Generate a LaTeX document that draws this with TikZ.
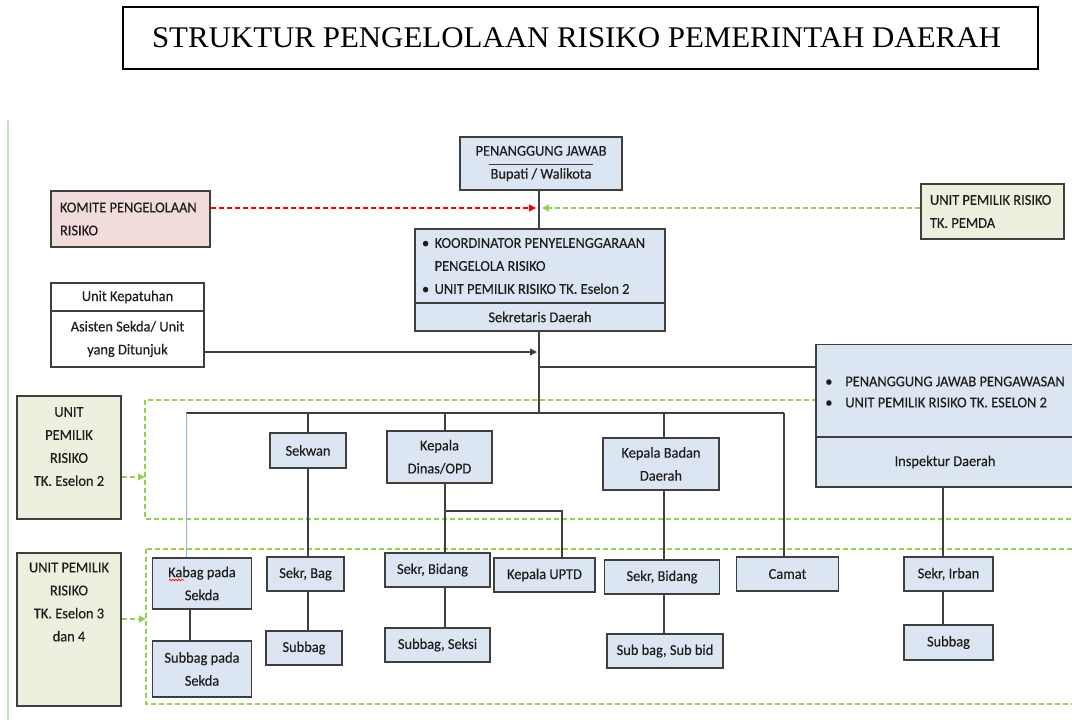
\documentclass[tikz,border=0pt]{standalone}
\usepackage{fontspec}
\setmainfont{Carlito}[FakeStretch=0.96,FakeBold=0.3]
\newfontfamily\titlefont{Liberation Serif}[FakeStretch=1.03]
\usetikzlibrary{arrows.meta,decorations.pathmorphing}
\definecolor{bxblue}{HTML}{DCE6F2}
\definecolor{bxpink}{HTML}{F2DCDB}
\definecolor{bxgreen}{HTML}{EBF1DE}
\definecolor{bxline}{HTML}{3F3F3F}
\definecolor{dgreen}{HTML}{92D050}
\definecolor{lgreen}{HTML}{C5E0B4}
\definecolor{cblue}{HTML}{8EB4E3}
\definecolor{txt}{HTML}{1E1E1E}
\newcommand\boxfont{\fontsize{15}{23}\selectfont}
\begin{document}
\begin{tikzpicture}[x=1pt,y=-1pt,
  bx/.style={draw=bxline, line width=1.3pt, fill=bxblue, inner sep=0pt, font=\boxfont, text=txt, align=center},
  sz/.style 2 args={minimum width=#1pt, minimum height=#2pt},
  conn/.style={draw=bxline, line width=1.2pt},
  gdash/.style={draw=dgreen, line width=1.2pt, dash pattern=on 5pt off 3pt},
  rdash/.style={draw=red, line width=1.2pt, dash pattern=on 5pt off 3pt},
  gtip/.style={-{Triangle[length=7pt,width=7pt]}},
]
\useasboundingbox (0,0) rectangle (1072,720);

% title
\node[draw=black, line width=1.2pt, sz={915}{62}, inner sep=0pt,
      font=\titlefont\fontsize{30}{36}\selectfont] (title) at (580.5,38)
      {STRUKTUR PENGELOLAAN RISIKO PEMERINTAH DAERAH\hspace*{8pt}};

% left green rule
\draw[lgreen, line width=2pt] (8,120) -- (8,720);

% dashed group frames
\draw[gdash] (145,400) rectangle (1090,519);
\draw[gdash] (146,549) rectangle (1090,704);

% top boxes
\node[bx, sz={162}{53}] (pj) at (541,163.5) {PENANGGUNG JAWAB\\Bupati / Walikota};
\draw[bxline, line width=1.2pt] (489,164.5) -- (593,164.5);

\node[bx, fill=bxpink, sz={159}{56}, align=flush left, text width=141pt] (komite) at (130.5,219)
  {KOMITE PENGELOLAAN\\RISIKO};
\node[bx, fill=bxgreen, sz={143}{55}, align=flush left, text width=125pt] (pemda) at (992.5,211.5)
  {UNIT PEMILIK RISIKO\\TK. PEMDA};

\node[bx, sz={250}{74}, align=flush left, text width=236pt] (koord) at (540,266)
  {\makebox[12.7pt][l]{•}KOORDINATOR PENYELENGGARAAN\\\hspace*{12.7pt}PENGELOLA RISIKO\\\makebox[12.7pt][l]{•}UNIT PEMILIK RISIKO TK. Eselon 2};
\node[bx, sz={250}{28}] (sekda) at (540,317) {Sekretaris Daerah};

\node[bx, fill=white, sz={153}{28}] (kepat) at (127.5,297) {Unit Kepatuhan};
\node[bx, fill=white, sz={153}{56}] (asisten) at (127.5,339) {Asisten Sekda/ Unit\\yang Ditunjuk};

\node[bx, sz={258}{95}, align=flush left, font=\fontsize{15}{21}\selectfont] (pjpeng) at (945,392)
  {\makebox[20pt][l]{•}PENANGGUNG JAWAB PENGAWASAN\\\makebox[20pt][l]{•}UNIT PEMILIK RISIKO TK. ESELON 2};
\node[bx, sz={258}{50}] (insp) at (945,462) {Inspektur Daerah};

% left level boxes
\node[bx, fill=bxgreen, sz={104}{123}] (es2) at (69,457.5)
  {UNIT\\PEMILIK\\RISIKO\\TK. Eselon 2\\[-1pt]\mbox{}};
\node[bx, fill=bxgreen, sz={104}{153}] (es34) at (69,629.5)
  {UNIT PEMILIK\\RISIKO\\TK. Eselon 3\\dan 4\\[32pt]\mbox{}};

% eselon 2 row
\node[bx, sz={76}{35}] (sekwan) at (308,450.5) {Sekwan};
\node[bx, sz={105}{52}] (kadinas) at (439.5,457) {Kepala\\Dinas/OPD};
\node[bx, sz={116}{52}] (kabadan) at (661,464) {Kepala Badan\\Daerah};

% eselon 3/4 row
\node[bx, sz={99}{51}] (kabag) at (202,583.5) {Kabag pada\\Sekda};
\node[bx, sz={99}{56}] (subsekda) at (202,669) {Subbag pada\\Sekda};
\node[bx, sz={77}{34}] (sekrbag) at (305.5,574) {Sekr, Bag};
\node[bx, sz={76}{34}] (subbag1) at (304,648) {Subbag};
\node[bx, sz={105}{34}] (sekrbid1) at (437.5,570) {Sekr, Bidang\hspace*{10pt}};
\node[bx, sz={105}{34}] (subseksi) at (437.5,645) {Subbag, Seksi};
\node[bx, sz={101}{34}] (uptd) at (544.5,575) {Kepala UPTD};
\node[bx, sz={115}{34}] (sekrbid2) at (662,577) {Sekr, Bidang};
\node[bx, sz={116}{34}] (subbid) at (665,651) {Sub bag, Sub bid};
\node[bx, sz={102}{34}] (camat) at (787.5,574) {Camat};
\node[bx, sz={89}{34}] (sekrirban) at (948.5,574) {Sekr, Irban};
\node[bx, sz={89}{35}] (subbag2) at (948.5,642.5) {Subbag};

% spell-check squiggle
\draw[red, line width=0.7pt, decorate, decoration={snake, amplitude=0.8pt, segment length=3pt}] (169,580) -- (184,580);

% coordinates
\coordinate (spine) at (539,0);
\coordinate (redtip) at (536,208);
\coordinate (greentip) at (542,208);
\coordinate (blktip) at (537,352);
\coordinate (insj) at (539,367);
\coordinate (busj) at (539,413);
\coordinate (busL) at (186,413);
\coordinate (busR) at (784,413);
\coordinate (swx) at (308,0);
\coordinate (kdx) at (445,0);
\coordinate (br) at (445,511);
\coordinate (upx) at (562,511);
\coordinate (kbx) at (664,0);
\coordinate (kbgx) at (190,0);
\coordinate (irx) at (943,0);
\coordinate (a2) at (145,477);
\coordinate (a34) at (146,619);

% connectors
\draw[conn] (pj.south -| spine) -- (koord.north -| spine);
\draw[conn] (sekda.south -| spine) -- (busj);
\draw[conn] (insj) -- (pjpeng.west |- insj);
\draw[rdash, -{Triangle[length=7pt,width=7pt]}, red] (komite.east |- redtip) -- (redtip);
\draw[gdash, gtip, dgreen] (pemda.west |- greentip) -- (greentip);
\draw[conn, -{Triangle[length=7pt,width=7pt]}] (asisten.east |- blktip) -- (blktip);
\draw[conn] (busL) -- (busR);
\draw[cblue, line width=1pt] (busL) -- (kabag.north -| busL);
\draw[conn] (swx |- busL) -- (sekwan.north -| swx);
\draw[conn] (kdx |- busL) -- (kadinas.north -| kdx);
\draw[conn] (kbx |- busL) -- (kabadan.north -| kbx);
\draw[conn] (busR) -- (camat.north -| busR);
\draw[conn] (sekwan.south -| swx) -- (sekrbag.north -| swx);
\draw[conn] (sekrbag.south -| swx) -- (subbag1.north -| swx);
\draw[conn] (kadinas.south -| kdx) -- (sekrbid1.north -| kdx);
\draw[conn] (br) -- (upx) -- (uptd.north -| upx);
\draw[conn] (sekrbid1.south -| kdx) -- (subseksi.north -| kdx);
\draw[conn] (kabadan.south -| kbx) -- (sekrbid2.north -| kbx);
\draw[conn] (sekrbid2.south -| kbx) -- (subbid.north -| kbx);
\draw[conn] (kabag.south -| kbgx) -- (subsekda.north -| kbgx);
\draw[conn] (insp.south -| irx) -- (sekrirban.north -| irx);
\draw[conn] (sekrirban.south -| irx) -- (subbag2.north -| irx);
\draw[gdash, gtip, dgreen] (es2.east |- a2) -- (a2);
\draw[gdash, gtip, dgreen] (es34.east |- a34) -- (a34);
\end{tikzpicture}
\end{document}
